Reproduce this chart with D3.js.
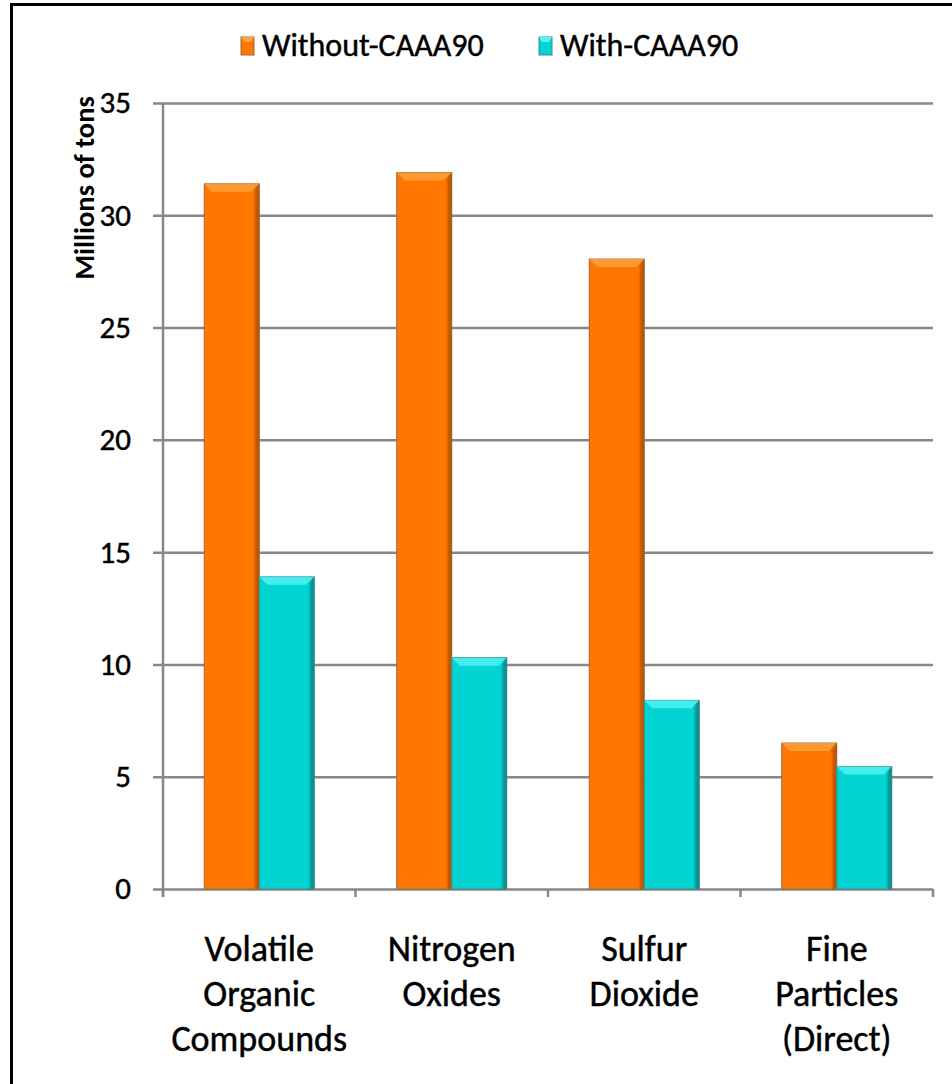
<!DOCTYPE html>
<html>
<head>
<meta charset="utf-8">
<script src="https://cdn.jsdelivr.net/npm/d3@7"></script>
<style>
  html, body { margin: 0; padding: 0; background: #fff; }
  svg { display: block; }
  text { font-family: Carlito, Calibri, Lato, "Open Sans", sans-serif; fill: #000; }
  .heavy { stroke: #000; stroke-width: 0.45px; }
</style>
</head>
<body>
<svg id="chart" width="952" height="1084"></svg>
<script>
const categories = [
  ["Volatile", "Organic", "Compounds"],
  ["Nitrogen", "Oxides"],
  ["Sulfur", "Dioxide"],
  ["Fine", "Particles", "(Direct)"]
];
const seriesNames = ["Without-CAAA90", "With-CAAA90"];
const withoutValues = [31.4, 31.9, 28.05, 6.5];
const withValues = [13.9, 10.3, 8.4, 5.45];
const yTicks = [0, 5, 10, 15, 20, 25, 30, 35];
const yTitle = "Millions of tons";

const colors = {
  "Without-CAAA90": { base: "#FF7700", light: "#FFA240", dark: "#B85300", edge: "#9A6A40" },
  "With-CAAA90": { base: "#02D4D4", light: "#55F4F4", dark: "#0A8C8C", edge: "#3E8A8A" }
};

const svg = d3.select("#chart");
const catKeys = categories.map(c => c.join(" "));
const data = catKeys.map((k, i) => ({ key: k, lines: categories[i], values: [withoutValues[i], withValues[i]] }));

const plot = { left: 163, right: 933, top: 103, bottom: 889 };
const y = d3.scaleLinear().domain([0, 35]).range([plot.bottom, plot.top]);
const x0 = d3.scaleBand().domain(catKeys).range([plot.left, plot.right]).paddingInner(0.4286).paddingOuter(0.2143);
const x1 = d3.scaleBand().domain(seriesNames).range([0, x0.bandwidth()]);

// frame
svg.append("path").attr("d", "M11.5,1084 V4.5 H952").attr("fill", "none").attr("stroke", "#000").attr("stroke-width", 3);

// gradients
const defs = svg.append("defs");
seriesNames.forEach((s, i) => {
  const c = colors[s];
  const g = defs.append("linearGradient").attr("id", "g" + i).attr("x1", 0).attr("x2", 1).attr("y1", 0).attr("y2", 0);
  g.append("stop").attr("offset", "0%").attr("stop-color", c.base);
  g.append("stop").attr("offset", "88%").attr("stop-color", c.base);
  g.append("stop").attr("offset", "100%").attr("stop-color", c.dark);
});

// gridlines + y axis
const yAxis = d3.axisLeft(y).tickValues(yTicks).tickSize(10).tickPadding(22).tickFormat(d3.format("d"));
const gy = svg.append("g").attr("transform", `translate(${plot.left},0)`).call(yAxis);
gy.select(".domain").remove();
gy.selectAll(".tick line").attr("stroke", "#878787").attr("stroke-width", 2.5)
  .attr("x1", -10).attr("x2", plot.right - plot.left);
gy.selectAll(".tick text").attr("font-size", 31).attr("fill", "#000").attr("class", "heavy");

// y axis line
svg.append("line").attr("x1", plot.left).attr("x2", plot.left).attr("y1", plot.top).attr("y2", plot.bottom + 8)
  .attr("stroke", "#878787").attr("stroke-width", 2.5);

// category tick marks at band boundaries
const step = x0.step();
const bounds = catKeys.map(k => x0(k) - (step - x0.bandwidth()) / 2).concat([plot.right]);
svg.append("g").selectAll("line").data(bounds).join("line")
  .attr("x1", d => d).attr("x2", d => d).attr("y1", plot.bottom).attr("y2", plot.bottom + 8)
  .attr("stroke", "#878787").attr("stroke-width", 2.5);

// bars
const groups = svg.append("g").selectAll("g").data(data).join("g")
  .attr("transform", d => `translate(${x0(d.key)},0)`);
groups.each(function(d) {
  const g = d3.select(this);
  d.values.forEach((v, i) => {
    const s = seriesNames[i];
    const c = colors[s];
    const bx = x1(s), bw = x1.bandwidth();
    const by = y(v), bh = y(0) - y(v);
    const b = 8;
    g.append("rect").attr("x", bx).attr("y", by).attr("width", bw).attr("height", bh)
      .attr("fill", `url(#g${i})`).attr("stroke", c.edge).attr("stroke-width", 1);
    // top bevel
    g.append("path").attr("d", `M${bx},${by} H${bx + bw} L${bx + bw - b},${by + b} H${bx + b} Z`)
      .attr("fill", c.light).attr("opacity", 0.8);
    // right bevel
    g.append("path").attr("d", `M${bx + bw},${by} V${by + bh} L${bx + bw - 4},${by + bh} V${by + b} Z`)
      .attr("fill", c.dark).attr("opacity", 0.6);
  });
});

// category labels
const lab = svg.append("g").selectAll("text").data(data).join("text")
  .attr("x", d => x0(d.key) + x0.bandwidth() / 2)
  .attr("y", 961)
  .attr("text-anchor", "middle")
  .attr("font-size", 36)
  .attr("class", "heavy");
lab.selectAll("tspan").data(d => d.lines).join("tspan")
  .attr("x", function() { return d3.select(this.parentNode).attr("x"); })
  .attr("dy", (d, i) => i === 0 ? 0 : 45)
  .text(d => d);

// y title
svg.append("text").attr("transform", "translate(94,188) rotate(-90)")
  .attr("text-anchor", "middle").attr("font-size", 28.5).attr("font-weight", "bold").text(yTitle);

// legend
const legend = svg.append("g");
const legX = [241, 539];
seriesNames.forEach((s, i) => {
  const c = colors[s];
  legend.append("rect").attr("x", legX[i]).attr("y", 37).attr("width", 13).attr("height", 18)
    .attr("fill", c.base).attr("stroke", c.edge).attr("stroke-width", 1);
  legend.append("path").attr("d", `M${legX[i]},37 h13 l-3,5 h-7 z`).attr("fill", c.light);
  legend.append("text").attr("x", legX[i] + 21).attr("y", 56).attr("font-size", 32)
    .attr("class", "heavy").text(s);
});
</script>
</body>
</html>
